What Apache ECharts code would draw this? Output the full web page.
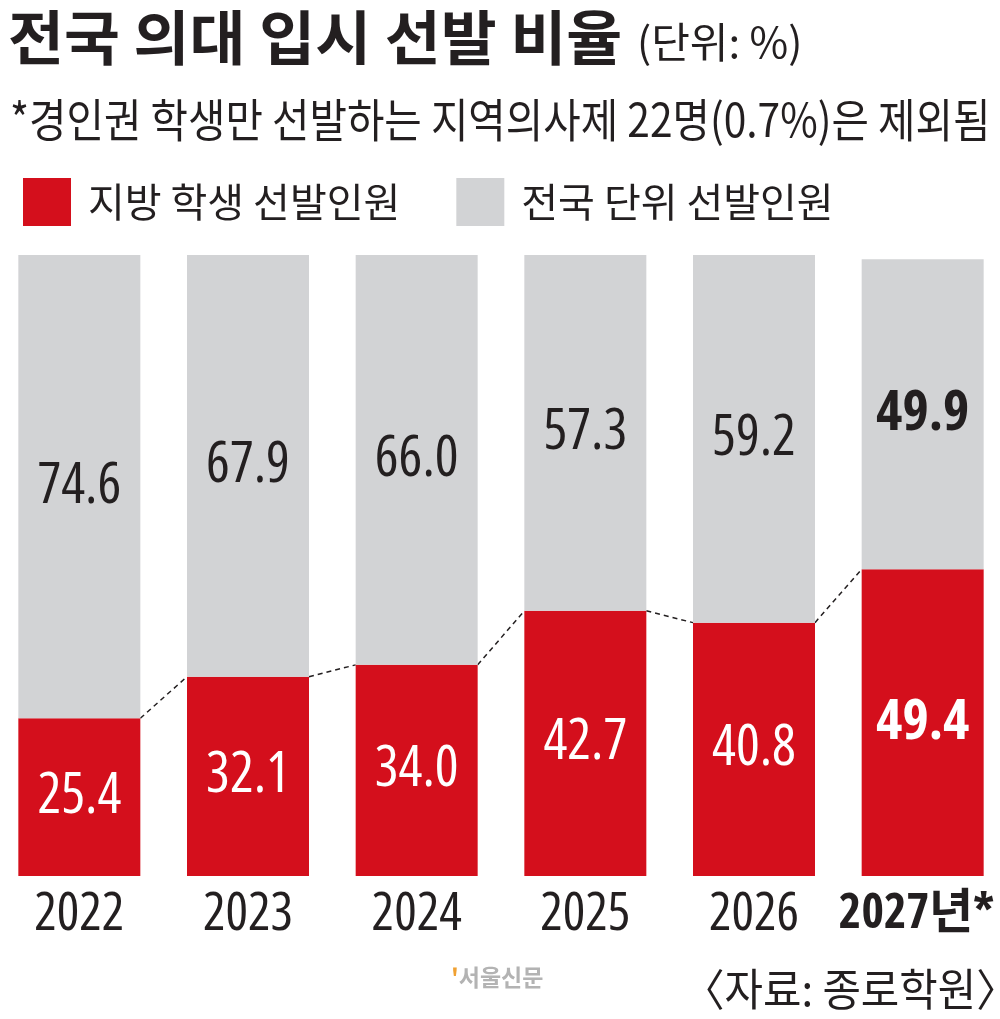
<!DOCTYPE html>
<html>
<head>
<meta charset="utf-8">
<script src="https://cdn.jsdelivr.net/npm/echarts@6/dist/echarts.min.js"></script>
<style>
  html, body { margin: 0; padding: 0; background: #fff; }
  #chart { width: 1000px; height: 1019px; }
</style>
</head>
<body>
<div id="chart"></div>
<script>
// 데이터
var years = ['2022', '2023', '2024', '2025', '2026', '2027년*']
var localRatio = [25.4, 32.1, 34.0, 42.7, 40.8, 49.4] // 지방 학생 선발인원
var nationalRatio = [74.6, 67.9, 66.0, 57.3, 59.2, 49.9] // 전국 단위 선발인원

var RED = '#d40f1c'
var GRAY = '#d2d3d5'
var INK = '#231f20'
// Open Sans 가변폰트의 condensed 폭 사용
var NUM_FONT = '"Open Sans", "Noto Sans CJK KR", sans-serif'
var KR_FONT = '"Noto Sans CJK KR", sans-serif'
var BAR_W = 122
var LAST = years.length - 1

var myChart = echarts.init(document.getElementById('chart'))

// 점선 연결용 데이터 (i, 현재값, 다음값)
var linkData = []
for (var i = 0; i < localRatio.length - 1; i++) {
  linkData.push([i, localRatio[i], localRatio[i + 1]])
}

function fmt(p) {
  return Number(p.value).toFixed(1)
}

var option = {
  animation: false,
  color: [RED, GRAY],
  graphic: [
    {
      type: 'text', x: 8, y: 38, scaleX: 1.03,
      style: { text: '전국 의대 입시 선발 비율', font: 'bold 59px ' + KR_FONT, fill: INK, textVerticalAlign: 'middle' },
    },
    {
      type: 'text', x: 637, y: 42, scaleX: 1.0,
      style: { text: '(단위: %)', font: '42px ' + KR_FONT, fill: INK, textVerticalAlign: 'middle' },
    },
    {
      type: 'text', x: 10, y: 120, scaleX: 0.885,
      style: { text: '*경인권 학생만 선발하는 지역의사제 22명(0.7%)은 제외됨', font: '46px ' + KR_FONT, fill: INK, textVerticalAlign: 'middle' },
    },
    {
      type: 'text', x: 1018, y: 989, scaleX: 0.95,
      style: { text: '〈자료: 종로학원〉', font: '44px ' + KR_FONT, fill: INK, textAlign: 'right', textVerticalAlign: 'middle' },
    },
    {
      type: 'text', x: 451, y: 977,
      style: {
        text: '{a|\'}{b|서울신문}',
        textVerticalAlign: 'middle',
        rich: {
          a: { fill: '#f0a132', font: 'bold 24px ' + KR_FONT },
          b: { fill: '#b3b3b3', font: 'bold 23px ' + KR_FONT },
        },
      },
    },
  ],
  legend: {
    left: 18,
    top: 173,
    itemWidth: 48,
    itemHeight: 48,
    itemGap: 56,
    icon: 'rect',
    selectedMode: false,
    textStyle: {
      fontFamily: KR_FONT,
      fontSize: 40,
      color: INK,
      padding: [0, 0, 0, 12],
    },
    data: ['지방 학생 선발인원', '전국 단위 선발인원'],
  },
  grid: {
    left: -5,
    right: -7,
    top: 255,
    bottom: 143,
    containLabel: false,
    outerBoundsMode: 'none',
  },
  xAxis: {
    type: 'category',
    data: years.map(function (y, i) {
      return i === LAST
        ? { value: y, textStyle: { fontWeight: 'bold condensed', fontSize: 48, padding: [2, 12, 0, 0] } }
        : y
    }),
    axisLine: { show: false },
    axisTick: { show: false },
    axisLabel: {
      interval: 0,
      margin: 12,
      color: INK,
      fontSize: 53,
      fontWeight: 'condensed',
      fontFamily: NUM_FONT,
    },
  },
  yAxis: {
    type: 'value',
    min: 0,
    max: 100,
    show: false,
  },
  series: [
    {
      name: '지방 학생 선발인원',
      type: 'bar',
      stack: 'total',
      barWidth: BAR_W,
      itemStyle: { color: RED },
      label: {
        show: true,
        position: 'inside',
        formatter: fmt,
        color: '#fff',
        fontSize: 56,
        fontWeight: 'condensed',
        fontFamily: NUM_FONT,
      },
      data: localRatio.map(function (v, i) {
        return i === LAST ? { value: v, label: { fontWeight: 'bold condensed' } } : v
      }),
    },
    {
      name: '전국 단위 선발인원',
      type: 'bar',
      stack: 'total',
      barWidth: BAR_W,
      itemStyle: { color: GRAY },
      label: {
        show: true,
        position: 'inside',
        formatter: fmt,
        color: INK,
        fontSize: 56,
        fontWeight: 'condensed',
        fontFamily: NUM_FONT,
      },
      data: nationalRatio.map(function (v, i) {
        return i === LAST ? { value: v, label: { fontWeight: 'bold condensed' } } : v
      }),
    },
    {
      // 지방 학생 비율 막대끼리 잇는 점선
      type: 'custom',
      silent: true,
      data: linkData,
      renderItem: function (params, api) {
        var idx = api.value(0)
        var p1 = api.coord([idx, api.value(1)])
        var p2 = api.coord([idx + 1, api.value(2)])
        return {
          type: 'line',
          shape: { x1: p1[0] + BAR_W / 2, y1: p1[1], x2: p2[0] - BAR_W / 2, y2: p2[1] },
          style: { stroke: INK, lineWidth: 1.5, lineDash: [5, 4] },
        }
      },
    },
  ],
}

myChart.setOption(option)
window.addEventListener('resize', function () {
  myChart.resize()
})
</script>
</body>
</html>
